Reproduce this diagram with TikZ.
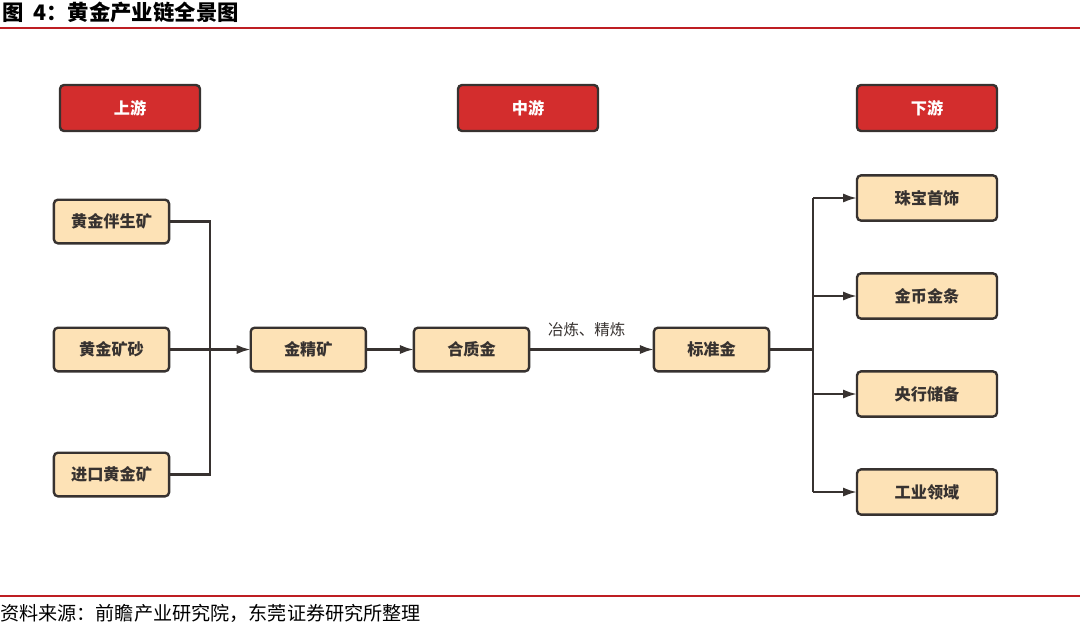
\documentclass[tikz,border=0pt]{standalone}
\usepackage{fontspec}
\setmainfont{Noto Sans CJK SC}
\usepackage{tikz}
\usetikzlibrary{arrows.meta,positioning}
\definecolor{hdred}{RGB}{211,45,45}
\definecolor{rulered}{RGB}{190,30,35}
\definecolor{peach}{RGB}{253,226,182}
\definecolor{edge}{RGB}{55,50,48}

\begin{document}
\begin{tikzpicture}[
  hdr/.style={draw=edge,line width=1.7pt,rounded corners=1mm,fill=hdred,
    minimum width=3.5cm,minimum height=1.15cm,inner sep=0pt,outer sep=0pt,
    text=white,font=\bfseries\fontsize{11.5}{13}\selectfont},
  box/.style={draw=edge,line width=1.7pt,rounded corners=1mm,fill=peach,
    minimum width=2.88cm,minimum height=1.09cm,inner sep=0pt,outer sep=0pt,
    text=edge,font=\bfseries\fontsize{11.5}{13}\selectfont},
  wbox/.style={box,minimum width=3.5cm,minimum height=1.13cm},
  line/.style={draw=edge,line width=1.7pt},
  arrow/.style={line,-{Latex[length=3.5mm,width=2.3mm]}}
]
\useasboundingbox (0,0) rectangle (27,-15.55);
% title and rules
\node[anchor=west,inner sep=0pt,font=\bfseries\fontsize{15.2}{17}\selectfont] (title) at (0.05,-0.3) {图~~4：黄金产业链全景图};
\draw[rulered,line width=1.4pt] (0,-0.69) -- (27,-0.69);
\draw[rulered,line width=1.4pt] (0,-14.9) -- (27,-14.9);
\node[anchor=west,inner sep=0pt,font=\fontsize{13.6}{15}\selectfont] (src) at (0,-15.33) {资料来源：前瞻产业研究院，东莞证券研究所整理};
% headers
\node[hdr] (up) at (3.25,-2.7) {上游};
\node[hdr] (mid) at (13.2,-2.7) {中游};
\node[hdr] (down) at (23.175,-2.7) {下游};
% upstream
\node[box] (ore1) at (2.7875,-5.5375) {黄金伴生矿};
\node[box,below=2.11cm of ore1] (ore2) {黄金矿砂};
\node[box,below=2.035cm of ore2] (ore3) {进口黄金矿};
% midstream
\node[box,right=2.04cm of ore2] (conc) {金精矿};
\node[box,right=1.2cm of conc] (crude) {合质金};
\node[box,right=3.12cm of crude] (std) {标准金};
% downstream
\node[wbox] (use1) at (23.175,-4.95) {珠宝首饰};
\node[wbox,below=1.32cm of use1] (use2) {金币金条};
\node[wbox,below=1.32cm of use2] (use3) {央行储备};
\node[wbox,below=1.32cm of use3] (use4) {工业领域};
\coordinate (lbus) at (5.25,0);
\coordinate (rbus) at (20.325,0);
% connectors
\draw[line] (ore1.east) -| (lbus |- ore3.east) -- (ore3.east);
\draw[arrow] (ore2) -- (conc);
\draw[arrow] (conc) -- (crude);
\draw[arrow] (crude) -- node[above=5pt,xshift=-0.12cm,font=\fontsize{11}{13}\selectfont,text=edge] {冶炼、精炼} (std);
\draw[line] (std) -- (rbus |- std);
\draw[line] (rbus |- use1) -- (rbus |- use4);
\foreach \u in {use1,use2,use3,use4}
  \draw[arrow] (rbus |- \u.west) -- (\u.west);
\end{tikzpicture}
\end{document}
